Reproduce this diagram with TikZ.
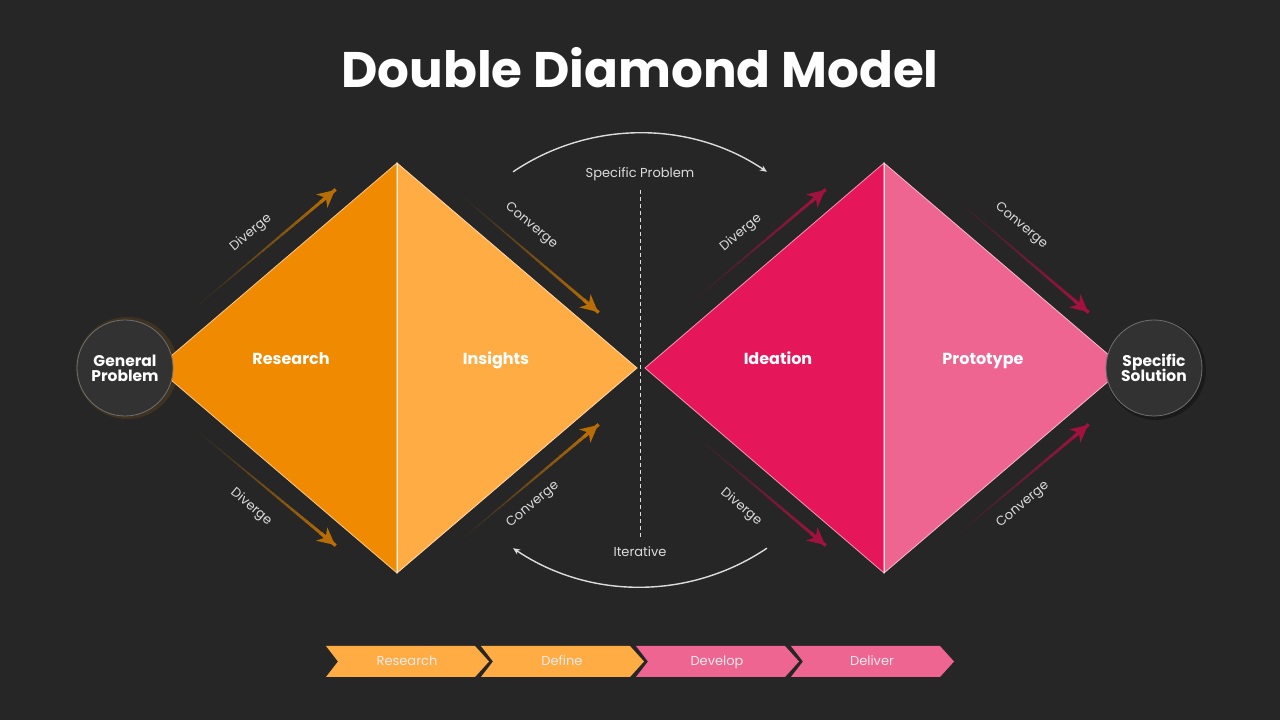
\documentclass[tikz,border=0pt]{standalone}
\usepackage{fontspec}
\setmainfont{Poppins}
\usepackage{tikz}
\usetikzlibrary{arrows.meta,calc,positioning}

\definecolor{bg}{HTML}{262626}
\definecolor{resorange}{HTML}{F08A00}
\definecolor{insorange}{HTML}{FFAC45}
\definecolor{idepink}{HTML}{E5175A}
\definecolor{propink}{HTML}{EE6592}
\definecolor{arrorange}{HTML}{B86E05}
\definecolor{arrpink}{HTML}{A3123F}
\definecolor{circfill}{HTML}{323232}
\definecolor{lightgrey}{HTML}{DCDCDC}

\tikzset{
  steplabel/.style={text=lightgrey, font=\fontsize{13}{15}\selectfont},
  halflabel/.style={text=white, anchor=base, font=\fontsize{16}{18}\selectfont\bfseries},
  endcircle/.style={circle, minimum size=96pt, inner sep=0pt, fill=circfill,
    draw=white!30!circfill, line width=0.8pt, text=white, align=center,
    font=\fontsize{15.5}{18}\selectfont\bfseries},
  chevtext/.style={text=white!92!black, anchor=base, font=\fontsize{13}{15}\selectfont},
}

\begin{document}
\begin{tikzpicture}[x=1pt,y=1pt]

	% gradient arrow: start, end, colour
	\newcommand{\GradArrow}[3]{
		\foreach \i in {0,...,29}{
			\pgfmathsetmacro{\fa}{\i/30}
			\pgfmathsetmacro{\fb}{(\i+1)/30+0.005}
			\pgfmathsetmacro{\pc}{\i*100/29}
			\draw [line width=0.4+\i*0.1, color={#3!\pc!bg}]
				($(#1)!\fa!(#2)$) -- ($(#1)!\fb!(#2)$);
		}
		\draw [#3, line width=3.3pt, -{Stealth[length=17pt,width=17pt,inset=5pt]}]
			($(#1)!0.9!(#2)$) -- (#2);
	}

	\fill [bg] (0,0) rectangle (1280,720);
	\useasboundingbox (0,0) rectangle (1280,720);

	\node [text=white, font=\fontsize{50}{54}\selectfont\bfseries] (title) at (640,652) {Double Diamond Model};

	% left diamond
	\coordinate (lL) at (157,352);
	\coordinate (lT) at (397,557);
	\coordinate (lR) at (637,352);
	\coordinate (lB) at (397,147);
	\filldraw [fill=resorange, draw=white!55!resorange, line width=0.8pt] (lL) -- (lT) -- (lB) -- cycle;
	\filldraw [fill=insorange, draw=white!55!insorange, line width=0.8pt] (lT) -- (lR) -- (lB) -- cycle;
	\draw [white!80!insorange, line width=1pt] (lT) -- (lB);

	% right diamond
	\coordinate (rL) at (645,352);
	\coordinate (rT) at (884,557);
	\coordinate (rR) at (1124,352);
	\coordinate (rB) at (884,147);
	\filldraw [fill=idepink, draw=white!55!idepink, line width=0.8pt] (rL) -- (rT) -- (rB) -- cycle;
	\filldraw [fill=propink, draw=white!55!propink, line width=0.8pt] (rT) -- (rR) -- (rB) -- cycle;
	\draw [white!80!propink, line width=1pt] (rT) -- (rB);

	\node [halflabel] (research) at (291,355) {Research};
	\node [halflabel] (insights) at (496,355) {Insights};
	\node [halflabel] (ideation) at (778,355) {Ideation};
	\node [halflabel] (prototype) at (983,355) {Prototype};

	% end circles
	\fill [resorange, opacity=.12] (127,352) circle (51pt);
	\node [endcircle] (general) at (125,352) {General\\[-3pt]Problem};
	\fill [black, opacity=.3] (1156,350) circle (50pt);
	\node [endcircle] (solution) at (1154,352) {Specific\\[-3pt]Solution};

	% diverge / converge arrows
	\coordinate (a1s) at (190,408);  \coordinate (a1e) at (335,530);
	\coordinate (a2s) at (455,530);  \coordinate (a2e) at (598,408);
	\coordinate (a3s) at (190,295);  \coordinate (a3e) at (335,175);
	\coordinate (a4s) at (455,175);  \coordinate (a4e) at (598,295);
	\coordinate (b1s) at (680,408);  \coordinate (b1e) at (825,530);
	\coordinate (b2s) at (945,530);  \coordinate (b2e) at (1088,408);
	\coordinate (b3s) at (683,295);  \coordinate (b3e) at (825,175);
	\coordinate (b4s) at (945,175);  \coordinate (b4e) at (1088,295);

	\GradArrow{a1s}{a1e}{arrorange}
	\GradArrow{a2s}{a2e}{arrorange}
	\GradArrow{a3s}{a3e}{arrorange}
	\GradArrow{a4s}{a4e}{arrorange}
	\GradArrow{b1s}{b1e}{arrpink}
	\GradArrow{b2s}{b2e}{arrpink}
	\GradArrow{b3s}{b3e}{arrpink}
	\GradArrow{b4s}{b4e}{arrpink}

	\node [steplabel, rotate=40]  (div1) at (251,487) {Diverge};
	\node [steplabel, rotate=-40] (con1) at (531,494) {Converge};
	\node [steplabel, rotate=-40] (div2) at (251,213) {Diverge};
	\node [steplabel, rotate=40]  (con2) at (533,215) {Converge};
	\node [steplabel, rotate=40]  (div3) at (741,487) {Diverge};
	\node [steplabel, rotate=-40] (con3) at (1021,494) {Converge};
	\node [steplabel, rotate=-40] (div4) at (741,213) {Diverge};
	\node [steplabel, rotate=40]  (con4) at (1023,215) {Converge};

	% iteration
	\coordinate (mid) at (640,360);
	\draw [lightgrey, line width=1.4pt, -{Stealth[length=7pt,width=6pt]}] (mid) ++(124:227) arc (124:56:227);
	\draw [lightgrey, line width=1.4pt, -{Stealth[length=7pt,width=6pt]}] (mid) ++(-56:227) arc (-56:-124:227);
	\node [steplabel] (specprob) at (640,546) {Specific Problem};
	\node [steplabel] (iterative) at (640,168) {Iterative};
	\draw [lightgrey, line width=0.9pt, dash pattern=on 4pt off 3pt] (specprob.south |- 0,530) -- (iterative.north |- 0,183);

	% phases
	\foreach \x/\c/\t [count=\k] in {326/insorange/Research, 481/insorange/Define, 636/propink/Develop, 791/propink/Deliver}{
		\fill [\c] (\x,74) -- (\x+149,74) -- (\x+163,58.5) -- (\x+149,43) -- (\x,43) -- (\x+12,58.5) -- cycle;
		\node [chevtext] (phase\k) at (\x+81,54.5) {\t};
	}

\end{tikzpicture}
\end{document}
